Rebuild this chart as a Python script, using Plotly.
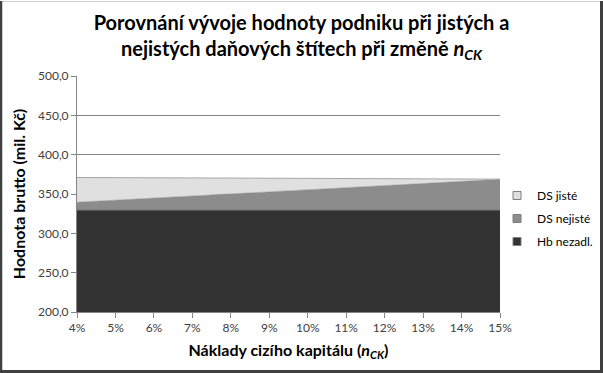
import plotly.graph_objects as go

# categories (Náklady cizího kapitálu, %)
n_ck = [4, 5, 6, 7, 8, 9, 10, 11, 12, 13, 14, 15]
tick_labels = ["4%", "5%", "6%", "7%", "8%", "9%", "10%", "11%", "12%", "13%", "14%", "15%"]

# stacked series values (mil. Kč)
hb_nezadl = [329.3, 329.3, 329.3, 329.3, 329.3, 329.3, 329.3, 329.3, 329.3, 329.3, 329.3, 329.3]
ds_nejiste = [10.2, 12.9, 15.6, 18.3, 21.0, 23.7, 26.4, 29.0, 31.7, 34.3, 36.9, 39.3]
ds_jiste = [31.5, 28.6, 25.7, 22.8, 19.9, 17.0, 14.1, 11.3, 8.4, 5.6, 2.8, 0.3]

series_names = ["DS jisté", "DS nejisté", "Hb nezadl."]
series_colors = ["#e0e0e0", "#8c8c8c", "#333333"]

W, H = 603, 373
ML, MR, MT, MB = 77, 103, 76, 61
PW = W - ML - MR
PH = H - MT - MB

def px(x):
    return (x - ML) / PW

def py(y):
    return (H - MB - y) / PH

font_fam = "Lato, 'Open Sans', sans-serif"

fig = go.Figure()
# stacked areas (bottom to top)
fig.add_trace(go.Scatter(x=n_ck, y=hb_nezadl, name=series_names[2], stackgroup="s",
                         mode="lines", line=dict(color=series_colors[2], width=0.5),
                         fillcolor=series_colors[2], showlegend=False))
fig.add_trace(go.Scatter(x=n_ck, y=ds_nejiste, name=series_names[1], stackgroup="s",
                         mode="lines", line=dict(color="#888888", width=0.5),
                         fillcolor=series_colors[1], showlegend=False))
fig.add_trace(go.Scatter(x=n_ck, y=ds_jiste, name=series_names[0], stackgroup="s",
                         mode="lines", line=dict(color="#a6a6a6", width=1),
                         fillcolor=series_colors[0], showlegend=False))

# legend entries with square swatches
for nm, col in zip(series_names, series_colors):
    fig.add_trace(go.Scatter(x=[None], y=[None], mode="markers", name=nm,
                             marker=dict(symbol="square", size=8, color=col,
                                         line=dict(color="#7f7f7f", width=1)),
                             legendgroup=nm))

shapes = [
    dict(type="rect", xref="paper", yref="paper", x0=px(1), x1=px(601.5), y0=py(371.5), y1=py(1.5),
         line=dict(color="#d0d0d0", width=1), layer="below"),
    dict(type="line", xref="paper", yref="paper", x0=px(1), x1=px(1), y0=py(372), y1=py(1),
         line=dict(color="#404040", width=2.5)),
    dict(type="line", xref="paper", yref="paper", x0=px(601.5), x1=px(601.5), y0=py(372), y1=py(1),
         line=dict(color="#404040", width=3)),
    dict(type="line", xref="paper", yref="paper", x0=px(0), x1=px(603), y0=py(371.5), y1=py(371.5),
         line=dict(color="#404040", width=3)),
]

fig.update_layout(
    width=W, height=H,
    margin=dict(l=ML, r=MR, t=MT, b=MB, autoexpand=False),
    paper_bgcolor="white", plot_bgcolor="white",
    separators=", ",
    font=dict(family=font_fam, color="#404040"),
    title=dict(
        text="<b>Porovnání vývoje hodnoty podniku při jistých a<br>nejistých daňových štítech při změně <i>n</i><sub><i>CK</i></sub></b>",
        x=0.5, xref="container", xanchor="center",
        y=1 - 30 / H, yref="container", yanchor="middle",
        font=dict(size=20, color="#000000", family=font_fam),
    ),
    xaxis=dict(
        range=[4, 15], tickvals=n_ck, ticktext=tick_labels,
        showgrid=False, zeroline=False,
        showline=True, linecolor="#868686", linewidth=1,
        ticks="outside", ticklen=5, tickcolor="#868686",
        tickfont=dict(size=12, color="#404040"),
        title=dict(text="<b>Náklady cizího kapitálu (<i>n</i><sub><i>CK</i></sub>)</b>",
                   font=dict(size=16, color="#000000"), standoff=10),
    ),
    yaxis=dict(
        range=[200, 500], dtick=50, tickformat=".1f",
        showgrid=True, gridcolor="#868686", gridwidth=1,
        zeroline=False,
        showline=True, linecolor="#868686", linewidth=1,
        ticks="outside", ticklen=5, tickcolor="#868686",
        tickfont=dict(size=12, color="#404040"),
        title=dict(text="<b>Hodnota brutto (mil. Kč)</b>",
                   font=dict(size=16, color="#000000"), standoff=8),
    ),
    legend=dict(
        x=px(497), xanchor="left", y=py(181), yanchor="top",
        traceorder="grouped", tracegroupgap=4, itemwidth=30,
        font=dict(size=12, color="#000000"),
        bgcolor="rgba(0,0,0,0)",
    ),
    shapes=shapes,
)

fig.write_html("out.html")
